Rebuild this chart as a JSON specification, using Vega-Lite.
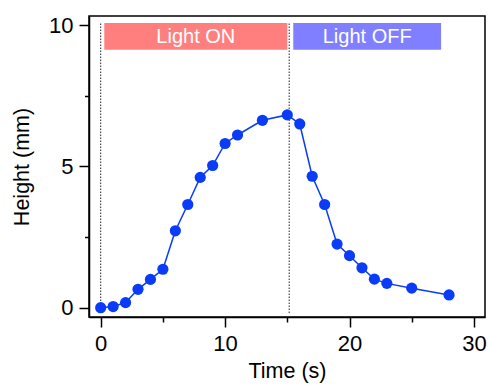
{
  "$schema": "https://vega.github.io/schema/vega-lite/v6.json",
  "width": 396,
  "height": 301,
  "autosize": "none",
  "padding": {"left": 89, "top": 16, "right": 3, "bottom": 68},
  "config": {
    "font": "Liberation Sans",
    "view": {"stroke": "black", "strokeWidth": 1.5},
    "axis": {
      "domainColor": "black",
      "domainWidth": 1.5,
      "tickColor": "black",
      "tickWidth": 1.5,
      "grid": false,
      "labelFont": "Liberation Sans",
      "labelFontSize": 22,
      "labelColor": "black",
      "titleFont": "Liberation Sans",
      "titleFontSize": 21.5,
      "titleFontWeight": "normal",
      "titleColor": "black"
    }
  },
  "datasets": {
    "series": [
      {"t": 0, "h": 0},
      {"t": 1, "h": 0.04},
      {"t": 2, "h": 0.18},
      {"t": 3, "h": 0.65},
      {"t": 4, "h": 1.0},
      {"t": 5, "h": 1.36},
      {"t": 6, "h": 2.72},
      {"t": 7, "h": 3.65},
      {"t": 8, "h": 4.61},
      {"t": 9, "h": 5.03},
      {"t": 10, "h": 5.81},
      {"t": 11, "h": 6.11},
      {"t": 13, "h": 6.63},
      {"t": 15, "h": 6.82},
      {"t": 16, "h": 6.5},
      {"t": 17, "h": 4.65},
      {"t": 18, "h": 3.65},
      {"t": 19, "h": 2.25},
      {"t": 20, "h": 1.84},
      {"t": 21, "h": 1.41},
      {"t": 22, "h": 1.01},
      {"t": 23, "h": 0.86},
      {"t": 25, "h": 0.69},
      {"t": 28, "h": 0.45}
    ],
    "markers": [
      {"t": 0, "h": -0.19, "h2": 10.07},
      {"t": 15.15, "h": -0.19, "h2": 10.07}
    ],
    "phases": [
      {"label": "Light ON", "t": 0.29, "t2": 15.0, "h": 9.13, "h2": 10.07, "color": "#FF7F7F"},
      {"label": "Light OFF", "t": 15.48, "t2": 27.36, "h": 9.13, "h2": 10.07, "color": "#7F7FFF"}
    ]
  },
  "layer": [
    {
      "data": {"name": "markers"},
      "mark": {"type": "rule", "color": "#222222", "strokeWidth": 1, "strokeDash": [1.5, 1.5]},
      "encoding": {
        "x": {"field": "t", "type": "quantitative", "title": "Time (s)"},
        "y": {"field": "h", "type": "quantitative", "title": "Height (mm)"},
        "y2": {"field": "h2"}
      }
    },
    {
      "data": {"name": "phases"},
      "mark": {"type": "rect"},
      "encoding": {
        "x": {"field": "t", "type": "quantitative", "title": "Time (s)"},
        "x2": {"field": "t2"},
        "y": {"field": "h", "type": "quantitative", "title": "Height (mm)"},
        "y2": {"field": "h2"},
        "color": {"field": "color", "type": "nominal", "scale": null}
      }
    },
    {
      "data": {"name": "phases"},
      "transform": [
        {"calculate": "(datum.t + datum.t2) / 2", "as": "tm"},
        {"calculate": "(datum.h + datum.h2) / 2", "as": "hm"}
      ],
      "mark": {"type": "text", "color": "white", "fontSize": 20, "font": "Liberation Sans", "baseline": "middle", "align": "center", "dy": 1},
      "encoding": {
        "x": {"field": "tm", "type": "quantitative", "title": "Time (s)"},
        "y": {"field": "hm", "type": "quantitative", "title": "Height (mm)"},
        "text": {"field": "label"}
      }
    },
    {
      "data": {"name": "series"},
      "mark": {"type": "line", "color": "#0A3CF8", "strokeWidth": 1.5, "point": {"filled": true, "size": 125, "color": "#0A3CF8", "opacity": 1}},
      "encoding": {
        "x": {
          "field": "t", "type": "quantitative", "title": "Time (s)",
          "scale": {"domain": [-0.94, 30.89], "nice": false, "zero": false},
          "axis": {
            "values": [0, 5, 10, 15, 20, 25, 30],
            "labelExpr": "datum.value % 10 === 0 ? datum.label : ''",
            "tickSize": {"condition": {"test": "datum.value % 10 !== 0", "value": 5}, "value": 10},
            "labelPadding": 6,
            "titlePadding": 6
          }
        },
        "y": {
          "field": "h", "type": "quantitative", "title": "Height (mm)",
          "scale": {"domain": [-0.33, 10.32], "nice": false, "zero": false},
          "axis": {
            "values": [0, 2.5, 5, 7.5, 10],
            "labelExpr": "datum.value % 5 === 0 ? datum.label : ''",
            "tickSize": {"condition": {"test": "datum.value % 5 !== 0", "value": 4.5}, "value": 10},
            "labelPadding": 6,
            "titlePadding": 15
          }
        }
      }
    }
  ]
}
